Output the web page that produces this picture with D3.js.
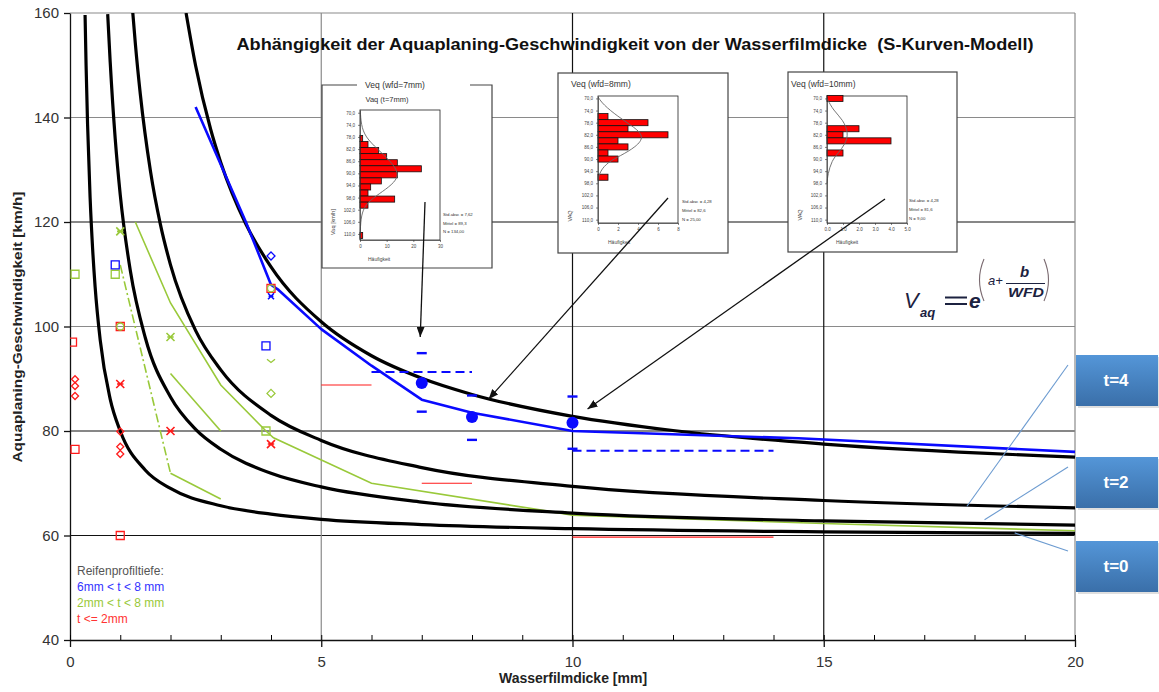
<!DOCTYPE html>
<html>
<head>
<meta charset="utf-8">
<script src="https://cdn.jsdelivr.net/npm/d3@7"></script>
<style>
	body{margin:0;background:#fff}
	text{font-family:Arial,"Liberation Sans",sans-serif}
</style>
</head>
<body>
<svg id="chart" width="1159" height="692"></svg>
<script>
// ---- data ----
const xTicks = [0, 5, 10, 15, 20]
const yTicks = [40, 60, 80, 100, 120, 140, 160]

// S-curve model curves (WFD [mm], Vaq [km/h])
const curveT0 = [[0.3,159.6],[0.32,150],[0.35,138.6],[0.4,124.7],[0.45,114.9],[0.5,107.6],[0.6,97.5],[0.8,86.1],[1,80],[1.5,72.5],[2,69],[3,65.7],[4,64.1],[5,63.1],[7,62.1],[10,61.3],[15,60.7],[20,60.4]]
const curveT2 = [[0.75,159.8],[0.8,150.6],[0.9,135.9],[1,125.2],[1.2,110.7],[1.5,97.8],[2,86.5],[2.5,80.3],[3,76.5],[4,71.9],[5,69.3],[7,66.4],[10,64.3],[15,62.8],[20,62]]
const curveT4 = [[1.25,160],[1.3,154.2],[1.4,144.4],[1.6,129.8],[1.8,119.5],[2,111.8],[2.5,99.2],[3,91.7],[4,83],[5,78.2],[7,73],[10,69.4],[15,66.7],[20,65.3]]
const curveT6 = [[2.31,160],[2.5,149.9],[2.8,137.7],[3,131.4],[3.5,119.6],[4,111.4],[5,100.9],[6,94.4],[7,90.1],[8,87],[10,82.8],[12,80.1],[15,77.5],[20,75]]

// measured fits
const blueFit = [[2.5,142],[3.5,120],[4,108],[4.15,107],[5,99.5],[6,92.5],[7,86],[8,83.5],[10,80],[14.5,78.6],[20,76]]
const greenDashDot = [[1,111.8],[2,71.9]]
const greenTail = [[2,71.9],[3,67]]
const greenShort = [[2,91],[3,80]]
const greenLong = [[1.3,120],[2,104.5],[3,88.8],[3.9,80],[4.05,78.7],[6,70],[9.35,64.9],[10,63.9],[15,62.3],[20,60.9]]

// horizontal bands [from, to, value]
const blueBands = [[6,8,91.3],[10,14,76.2]]
const redBands = [[5,6,88.8],[7,8,70],[10,14,59.7]]

// mean values and spread (wfd, mean) / (wfd, limit)
const blueMeans = [[7,89.2],[8,82.7],[10,81.6]]
const blueLimits = [[7,94.9],[7,83.7],[8,86.8],[8,78.3],[10,86.6],[10,76.6]]

// scatter measurements
const redSquares = [[0.05,97],[0.1,76.5],[1,60],[1,100],[4,107.3]]
const redDiamonds = [[0.1,89.9],[0.1,88.6],[0.1,86.7],[1,79.9],[1,77],[1,75.6]]
const redCrosses = [[1,89],[2,80],[4,77.5]]
const greenSquares = [[0.1,110],[0.9,110],[3.9,80]]
const greenCircles = [[1,100],[4,107.3]]
const greenCrosses = [[1,118.2],[2,98]]
const greenDiamonds = [[4,87.2]]
const greenChevrons = [[4,93.5]]
const blueSquares = [[0.9,111.8],[3.9,96.3]]
const blueDiamonds = [[4,113.5]]
const blueCrosses = [[4,105.8]]

// histograms in the insets
const hist7Bins = [78.5,80.5,82.5,84.5,86.5,88.5,90.5,92.5,94.5,96.5,98.5,100.5,110.5]
const hist7Counts = [1,3,7,10,14,23,14,8,4,3,13,3,1]
const hist7Density = [[69,0.1],[74,0.4],[78,2],[82,6.5],[86,11.5],[90,14.7],[93,13],[96,8.5],[99,3.5],[102,1],[106,0.2],[112,0]]
const hist7Stats = ["Std.abw. = 7,62", "Mittel = 89,3", "N = 134,00"]

const hist8Bins = [76,78,80,82,84,86,88,90,96]
const hist8Counts = [1,5,3,7,2,3,1,2,1]
const hist8Density = [[69.5,0],[72,0.5],[76,2],[79,3.4],[82.5,4.7],[86,3.8],[89,2.2],[91,1],[94,0.2],[97,0]]
const hist8Stats = ["Std.abw. = 4,28", "Mittel = 82,6", "N = 25,00"]

const hist10Bins = [70,80,82,84,88]
const hist10Counts = [1,2,1,4,1]
const hist10Density = [[70,0],[74,0.4],[77,1],[81.5,1.35],[85,1.15],[88,0.7],[90.5,0.3],[95,0.05],[98,0]]
const hist10Stats = ["Std.abw. = 4,28", "Mittel = 81,6", "N = 9,00"]
const histTicks = [70,74,78,82,86,90,94,98,102,106,110]

// ---- layout ----
const svg = d3.select("#chart")
const plot = {left:70, right:1075, top:13, bottom:640}
const x = d3.scaleLinear().domain([0,20]).range([plot.left, plot.right])
const y = d3.scaleLinear().domain([40,160]).range([plot.bottom, plot.top])

const BLUE = "#0a0aff", GREEN = "#99c93a", RED = "#ff1a1a"

svg.append("rect").attr("width",1159).attr("height",692).attr("fill","#fff")

const defs = svg.append("defs")
defs.append("clipPath").attr("id","plotClip")
	.append("rect").attr("x",plot.left).attr("y",plot.top)
	.attr("width",plot.right-plot.left).attr("height",plot.bottom-plot.top)
defs.append("marker").attr("id","arrow")
	.attr("viewBox","0 0 10 8").attr("refX",10).attr("refY",4)
	.attr("markerWidth",10).attr("markerHeight",8)
	.attr("markerUnits","userSpaceOnUse").attr("orient","auto")
	.append("path").attr("d","M0,0 L10,4 L0,8 Z").attr("fill","#111")
let grad = defs.append("linearGradient").attr("id","callGrad")
	.attr("x1",0).attr("y1",0).attr("x2",0).attr("y2",1)
grad.append("stop").attr("offset","0%").attr("stop-color","#5496d8")
grad.append("stop").attr("offset","100%").attr("stop-color","#3a6fa9")

// grid
const darkRows = [60, 80, 120]
const gridG = svg.append("g")
gridG.selectAll(".hg").data(yTicks.filter(v => v > 40)).join("line")
	.attr("x1",plot.left).attr("x2",plot.right)
	.attr("y1",d => y(d)).attr("y2",d => y(d))
	.attr("stroke",d => darkRows.includes(d) ? "#111" : "#8a8a8a")
	.attr("stroke-width",1.2)
gridG.selectAll(".vg").data(xTicks.filter(v => v > 0)).join("line")
	.attr("x1",d => x(d)).attr("x2",d => x(d))
	.attr("y1",plot.top).attr("y2",plot.bottom)
	.attr("stroke",d => (d === 10 || d === 15) ? "#111" : "#8a8a8a")
	.attr("stroke-width",1.2)

// axes
const yAxis = svg.append("g").attr("transform",`translate(${plot.left},0)`)
	.call(d3.axisLeft(y).tickValues(yTicks).tickSize(6).tickSizeOuter(0).tickPadding(5))
const xAxis = svg.append("g").attr("transform",`translate(0,${plot.bottom})`)
	.call(d3.axisBottom(x).tickValues(xTicks).tickSize(7).tickSizeOuter(0).tickPadding(9))
svg.append("g").attr("transform",`translate(0,${plot.bottom})`)
	.call(d3.axisTop(x).ticks(20).tickSize(5).tickFormat(""))
	.select(".domain").remove()
for (const ax of [yAxis, xAxis]) {
	ax.selectAll("text").attr("font-size",15).attr("fill","#333")
		.attr("font-family","Arial, 'Liberation Sans', sans-serif")
	ax.selectAll("line,path").attr("stroke","#111").attr("stroke-width",1.3)
}

svg.append("text").attr("x",573).attr("y",683).attr("text-anchor","middle")
	.attr("font-size",14).attr("font-weight","bold").attr("fill","#222")
	.text("Wasserfilmdicke [mm]")
svg.append("text").attr("transform","translate(22,327) rotate(-90)")
	.attr("text-anchor","middle").attr("font-size",13.5).attr("font-weight","bold")
	.attr("fill","#222").attr("textLength",271).attr("lengthAdjust","spacingAndGlyphs")
	.text("Aquaplaning-Geschwindigkeit [km/h]")

svg.append("text").attr("x",635).attr("y",50).attr("text-anchor","middle")
	.attr("font-size",16).attr("font-weight","bold").attr("fill","#111")
	.attr("textLength",797).attr("lengthAdjust","spacingAndGlyphs")
	.text("Abhängigkeit der Aquaplaning-Geschwindigkeit von der Wasserfilmdicke\u00a0 (S-Kurven-Modell)")

// lines
const main = svg.append("g").attr("clip-path","url(#plotClip)")
const smooth = d3.line().x(d => x(d[0])).y(d => y(d[1])).curve(d3.curveMonotoneX)
const straight = d3.line().x(d => x(d[0])).y(d => y(d[1]))

main.selectAll(".band-r").data(redBands).join("line")
	.attr("x1",d => x(d[0])).attr("x2",d => x(d[1]))
	.attr("y1",d => y(d[2])).attr("y2",d => y(d[2]))
	.attr("stroke",RED).attr("stroke-width",1.2)

main.append("path").attr("d",straight(greenDashDot)).attr("fill","none")
	.attr("stroke",GREEN).attr("stroke-width",1.6).attr("stroke-dasharray","9,3,2,3")
for (const g of [greenTail, greenShort, greenLong]) {
	main.append("path").attr("d",straight(g)).attr("fill","none")
		.attr("stroke",GREEN).attr("stroke-width",1.6)
}

for (const c of [curveT0, curveT2, curveT4, curveT6]) {
	main.append("path").attr("d",smooth(c)).attr("fill","none")
		.attr("stroke","#000").attr("stroke-width",3.2)
}

main.append("path").attr("d",straight(blueFit)).attr("fill","none")
	.attr("stroke",BLUE).attr("stroke-width",2.6).attr("stroke-linejoin","round")

main.selectAll(".band-b").data(blueBands).join("line")
	.attr("x1",d => x(d[0])).attr("x2",d => x(d[1]))
	.attr("y1",d => y(d[2])).attr("y2",d => y(d[2]))
	.attr("stroke",BLUE).attr("stroke-width",2).attr("stroke-dasharray","9,5")

main.selectAll(".lim").data(blueLimits).join("line")
	.attr("x1",d => x(d[0]) - 5).attr("x2",d => x(d[0]) + 5)
	.attr("y1",d => y(d[1])).attr("y2",d => y(d[1]))
	.attr("stroke",BLUE).attr("stroke-width",2.4)
main.selectAll(".mean").data(blueMeans).join("circle")
	.attr("cx",d => x(d[0])).attr("cy",d => y(d[1])).attr("r",6).attr("fill",BLUE)

// markers
const pos = d => `translate(${x(d[0])},${y(d[1])})`
function marks(data, shape, color, size) {
	let sel = main.append("g").selectAll("path").data(data).join("path")
		.attr("transform",pos).attr("fill","none").attr("stroke",color).attr("stroke-width",1.3)
	const h = size/2
	if (shape === "square") sel.attr("d",`M${-h},${-h}H${h}V${h}H${-h}Z`)
	if (shape === "diamond") sel.attr("d",`M0,${-h}L${h},0L0,${h}L${-h},0Z`)
	if (shape === "cross") sel.attr("d",`M${-h},${-h}L${h},${h}M${-h},${h}L${h},${-h}M${-h*0.8},0H${h*0.8}`).attr("stroke-width",1.6)
	if (shape === "circle") sel.attr("d",d3.arc()({innerRadius:0,outerRadius:h,startAngle:0,endAngle:2*Math.PI}))
	if (shape === "chevron") sel.attr("d",`M${-h},${-h/3}L0,${h/2}L${h},${-h/3}`)
}
marks(redSquares, "square", RED, 8)
marks(redDiamonds, "diamond", RED, 7)
marks(redCrosses, "cross", RED, 8)
marks(greenSquares, "square", GREEN, 8)
marks(greenCircles, "circle", GREEN, 7)
marks(greenCrosses, "cross", GREEN, 8)
marks(greenDiamonds, "diamond", GREEN, 8)
marks(greenChevrons, "chevron", GREEN, 8)
marks(blueSquares, "square", BLUE, 8)
marks(blueDiamonds, "diamond", BLUE, 8)
marks(blueCrosses, "cross", BLUE, 6)

// legend
const legend = [["Reifenprofiltiefe:", "#555"], ["6mm < t < 8 mm", "#3333ff"], ["2mm < t < 8 mm", GREEN], ["t <= 2mm", "#ff3333"]]
svg.selectAll(".leg").data(legend).join("text")
	.attr("x",77).attr("y",(d,i) => 575 + i*16)
	.attr("font-size",12).attr("fill",d => d[1]).text(d => d[0])

// formula
const ink = "#1c2240"
const fG = svg.append("g").attr("fill",ink).attr("font-family","'Liberation Serif','Times New Roman',serif").attr("font-style","italic")
fG.append("text").attr("x",904).attr("y",308).attr("font-size",22).text("V")
fG.append("text").attr("x",920).attr("y",317).attr("font-size",13).attr("font-weight","bold").text("aq")
fG.append("path").attr("d","M945,297.5H967M945,304H967").attr("stroke",ink).attr("stroke-width",1.8)
fG.append("text").attr("x",969).attr("y",308).attr("font-size",21).attr("font-weight","bold").text("e")
fG.append("path").attr("d","M984,259 Q975,280 984,301 M1044,259 Q1053,280 1044,301")
	.attr("fill","none").attr("stroke","#7a6a70").attr("stroke-width",1.1)
fG.append("text").attr("x",988).attr("y",285).attr("font-size",13).text("a+")
fG.append("text").attr("x",1020).attr("y",277).attr("font-size",15).attr("font-weight","bold").text("b")
fG.append("path").attr("d","M1006,283.5H1045").attr("stroke",ink).attr("stroke-width",1.2)
fG.append("text").attr("x",1008).attr("y",297).attr("font-size",13).attr("font-weight","bold")
	.attr("textLength",36).attr("lengthAdjust","spacingAndGlyphs").text("WFD")

// insets
function inset(cfg, bins, counts, density, stats) {
	const g = svg.append("g")
	const f = cfg.frame
	g.append("rect").attr("x",f[0]).attr("y",f[1]).attr("width",f[2]-f[0]).attr("height",f[3]-f[1])
		.attr("fill","#fff").attr("stroke",cfg.gap ? "none" : "#444").attr("stroke-width",1.2)
	if (cfg.gap) {
		g.append("path").attr("fill","none").attr("stroke","#444").attr("stroke-width",1.2)
			.attr("d",`M${cfg.gap[0]},${f[1]}H${f[0]}V${f[3]}H${f[2]}V${f[1]}H${cfg.gap[1]}`)
	}
	g.append("text").attr("x",cfg.title[0]).attr("y",cfg.title[1]).attr("font-size",cfg.title[3])
		.attr("text-anchor",cfg.title[2]).attr("fill","#333").text(cfg.titleText)
	if (cfg.sub) g.append("text").attr("x",cfg.sub[0]).attr("y",cfg.sub[1]).attr("font-size",7.5)
		.attr("text-anchor","middle").attr("fill","#333").text(cfg.subText)

	const p = cfg.plot
	const hx = d3.scaleLinear().domain([0, cfg.xMax]).range([p[0], p[2]])
	const hy = d3.scaleLinear().domain(cfg.yDomain).range([p[1], p[3]])
	const bh = Math.abs(hy(2) - hy(0))
	g.append("rect").attr("x",p[0]).attr("y",p[1]).attr("width",p[2]-p[0]).attr("height",p[3]-p[1])
		.attr("fill","#fff").attr("stroke","#222").attr("stroke-width",0.8)
	g.selectAll(".bar").data(bins).join("rect")
		.attr("x",p[0]).attr("y",d => hy(d) - bh/2)
		.attr("width",(d,i) => hx(counts[i]) - p[0]).attr("height",bh)
		.attr("fill","#ff0000").attr("stroke","#111").attr("stroke-width",0.8)
	g.append("path").attr("fill","none").attr("stroke","#666").attr("stroke-width",0.9)
		.attr("d",d3.line().x(d => hx(d[1])).y(d => hy(d[0])).curve(d3.curveBasis)(density))
	g.append("g").attr("transform",`translate(${p[0]},0)`)
		.call(d3.axisLeft(hy).tickValues(histTicks).tickSize(2).tickSizeOuter(0)
			.tickFormat(d => d3.format(".1f")(d).replace(".", ",")))
		.call(a => a.selectAll("text").attr("font-size",4.5).attr("fill","#444"))
		.call(a => a.selectAll("line,path").attr("stroke","#333").attr("stroke-width",0.6))
	g.append("g").attr("transform",`translate(0,${p[3]})`)
		.call(d3.axisBottom(hx).tickValues(cfg.xTicks).tickSize(2).tickSizeOuter(0))
		.call(a => a.selectAll("text").attr("font-size",4.5).attr("fill","#444"))
		.call(a => a.selectAll("line,path").attr("stroke","#333").attr("stroke-width",0.6))
	g.append("text").attr("transform",`translate(${cfg.yLab[0]},${cfg.yLab[1]}) rotate(-90)`)
		.attr("font-size",5.5).attr("fill","#444").attr("text-anchor","middle").text(cfg.yLabText)
	g.append("text").attr("x",cfg.xLab[0]).attr("y",cfg.xLab[1]).attr("font-size",5).attr("fill","#444").text("Häufigkeit")
	g.selectAll(".st").data(stats).join("text")
		.attr("x",cfg.stats[0]).attr("y",(d,i) => cfg.stats[1] + i*cfg.stats[2])
		.attr("font-size",4.3).attr("fill","#333").text(d => d)
}

inset({frame:[322,85,492,268], gap:[357,470], title:[395,88,"middle",8.5], titleText:"Veq (wfd=7mm)",
	sub:[387,102], subText:"Vaq (t=7mm)", plot:[360,110,440,240], xMax:30, xTicks:[0,10,20,30],
	yDomain:[69.1,112], yLab:[335,222], yLabText:"Vaq [km/h]", xLab:[368,261], stats:[443,216,8.5]},
	hist7Bins, hist7Counts, hist7Density, hist7Stats)
inset({frame:[558,73,728,253], title:[571,87,"start",8.5], titleText:"Veq (wfd=8mm)",
	plot:[598,96,678,223], xMax:8, xTicks:[0,2,4,6,8],
	yDomain:[69.2,111.1], yLab:[572,216], yLabText:"VAQ", xLab:[608,244], stats:[682,203,8.8]},
	hist8Bins, hist8Counts, hist8Density, hist8Stats)
inset({frame:[788,72,957,252], title:[791,87,"start",8.5], titleText:"Veq (wfd=10mm)",
	plot:[827,96,907,223], xMax:5, xTicks:[0,1,2,3,4,5],
	yDomain:[69.2,111.1], yLab:[802,215], yLabText:"VAQ", xLab:[836,244], stats:[909,202,8.8]},
	hist10Bins, hist10Counts, hist10Density, hist10Stats)

// arrows from the histograms to the model curve
const arrows = [[[425,202],[6.97,98]], [[668,198],[8.33,86.1]], [[885,199],[10.3,84.2]]]
svg.selectAll(".arr").data(arrows).join("line")
	.attr("x1",d => d[0][0]).attr("y1",d => d[0][1])
	.attr("x2",d => x(d[1][0])).attr("y2",d => y(d[1][1]))
	.attr("stroke","#111").attr("stroke-width",1.3).attr("marker-end","url(#arrow)")

// callouts for the tread-depth curves
const callouts = [["t=4",355,[17.85,65.6]], ["t=2",457,[18.2,63]], ["t=0",541,[18.8,60.5]]]
svg.selectAll(".lead").data(callouts).join("line")
	.attr("x1",1068).attr("y1",d => d[1] + 10)
	.attr("x2",d => x(d[2][0])).attr("y2",d => y(d[2][1]))
	.attr("stroke","#6c9bd0").attr("stroke-width",1.1)
const cg = svg.selectAll(".call").data(callouts).join("g")
	.attr("transform",d => `translate(1076,${d[1]})`)
cg.append("rect").attr("x",2).attr("y",2).attr("width",83).attr("height",51).attr("fill","#c9c9c9").attr("opacity",0.6)
cg.append("rect").attr("width",82).attr("height",51).attr("fill","url(#callGrad)")
cg.append("text").attr("x",40).attr("y",31).attr("text-anchor","middle")
	.attr("font-size",17).attr("font-weight","bold").attr("fill","#fff").text(d => d[0])
</script>
</body>
</html>
